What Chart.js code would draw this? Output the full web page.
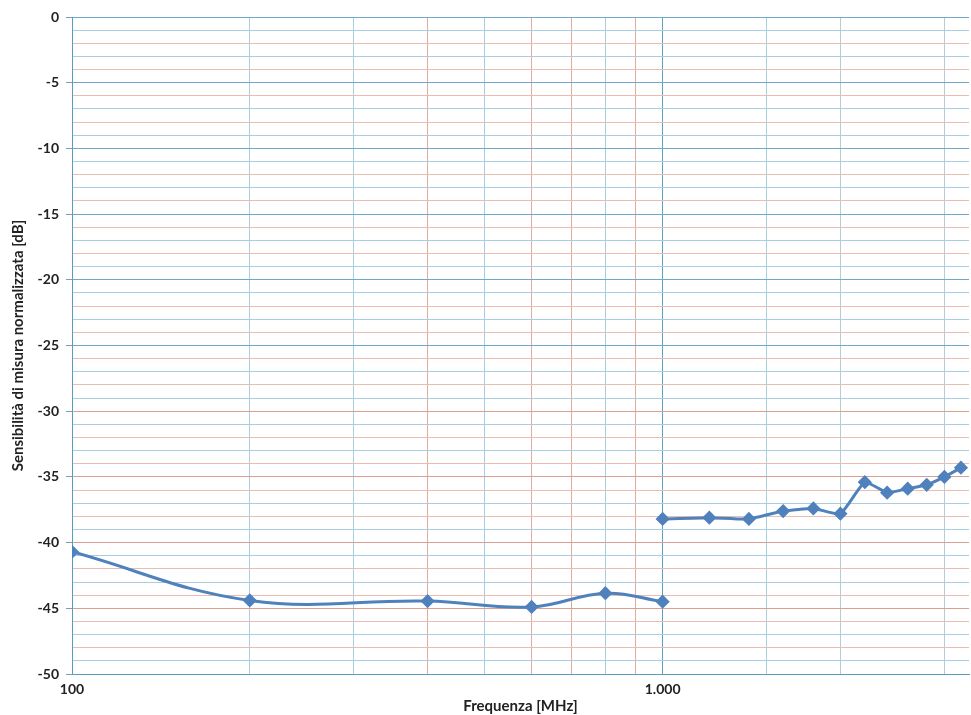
<!DOCTYPE html>
<html>
<head>
<meta charset="utf-8">
<script src="https://cdn.jsdelivr.net/npm/chart.js@4/dist/chart.umd.min.js"></script>
<style>
  html, body { margin: 0; padding: 0; background: #fff; overflow: hidden; }
  #wrap { width: 971px; height: 715px; overflow: hidden; }
</style>
</head>
<body>
<div id="wrap"><canvas id="myChart" width="977" height="715"></canvas></div>
<script>
// frequenza [MHz] e sensibilità [dB], due tratti misurati
var freq1 = [100, 200, 400, 600, 800, 1000];
var sens1 = [-40.7, -44.4, -44.45, -44.9, -43.85, -44.5];
var freq2 = [1000, 1200, 1400, 1600, 1800, 2000, 2200, 2400, 2600, 2800, 3000, 3200];
var sens2 = [-38.2, -38.1, -38.2, -37.6, -37.4, -37.8, -35.4, -36.2, -35.9, -35.6, -35.0, -34.3];
var yTicks = [0, -5, -10, -15, -20, -25, -30, -35, -40, -45, -50];
var xLabels = { 100: '100', 1000: '1.000' };

var blue = '#4f81bd';
var redVert = [400, 600, 700, 900];

function pts(xs, ys) {
  return xs.map(function (x, i) { return { x: x, y: ys[i] }; });
}

var ctx = document.getElementById('myChart').getContext('2d');
var myChart = new Chart(ctx, {
  type: 'line',
  data: {
    datasets: [{
      data: pts(freq1, sens1),
      borderColor: blue,
      backgroundColor: blue,
      borderWidth: 3,
      tension: 0.4,
      pointStyle: 'rectRot',
      pointRadius: 5,
      pointHoverRadius: 5
    }, {
      data: pts(freq2, sens2),
      borderColor: blue,
      backgroundColor: blue,
      borderWidth: 3,
      tension: 0.15,
      pointStyle: 'rectRot',
      pointRadius: 5,
      pointHoverRadius: 5
    }]
  },
  options: {
    responsive: false,
    animation: false,
    layout: { padding: { top: 17, right: 3, bottom: 0, left: 0 } },
    plugins: {
      legend: { display: false },
      tooltip: { enabled: false }
    },
    scales: {
      x: {
        type: 'logarithmic',
        min: 100,
        max: 3302,
        afterFit: function (scale) { scale.height = 41; },
        border: { color: '#5b9bbf', width: 1 },
        grid: {
          drawTicks: false,
          color: function (c) {
            var v = Math.round(c.tick.value);
            if (v >= 3300) return 'rgba(0,0,0,0)';
            if (v === 100 || v === 1000) return '#5f9fc2';
            if (redVert.indexOf(v) >= 0) return '#e3ab9c';
            if (v >= 2000) return '#b9cbd6';
            return '#a9cde0';
          }
        },
        ticks: {
          autoSkip: false,
          maxRotation: 0,
          padding: 7,
          color: '#222',
          font: { family: 'Lato', size: 14, weight: 'bold' },
          callback: function (v) { return xLabels[v] || ''; }
        },
        title: {
          display: true,
          text: 'Frequenza [MHz]',
          color: '#222',
          padding: 0,
          font: { family: 'Lato', size: 15, weight: 'bold' }
        }
      },
      y: {
        min: -50,
        max: 0,
        afterFit: function (scale) { scale.width = 72; },
        border: { color: '#5b9bbf', width: 1 },
        grid: {
          tickLength: 6,
          tickColor: function (c) {
            return yTicks.indexOf(c.tick.value) >= 0 ? '#7a9fb5' : 'rgba(0,0,0,0)';
          },
          color: function (c) {
            var v = c.tick.value;
            if (yTicks.indexOf(v) >= 0) return v <= -30 ? '#d9a090' : '#6fa8c8';
            return (Math.abs(v) % 2 === 1) ? '#a8cde0' : '#ebbcb0';
          }
        },
        ticks: {
          stepSize: 1,
          autoSkip: false,
          padding: 7,
          color: '#222',
          font: { family: 'Lato', size: 14, weight: 'bold' },
          callback: function (v) { return yTicks.indexOf(v) >= 0 ? String(v) : ''; }
        },
        title: {
          display: true,
          text: 'Sensibilità di misura normalizzata [dB]',
          color: '#222',
          padding: { top: 9, bottom: 0 },
          font: { family: 'Lato', size: 15, weight: 'bold' }
        }
      }
    }
  }
});
</script>
</body>
</html>
